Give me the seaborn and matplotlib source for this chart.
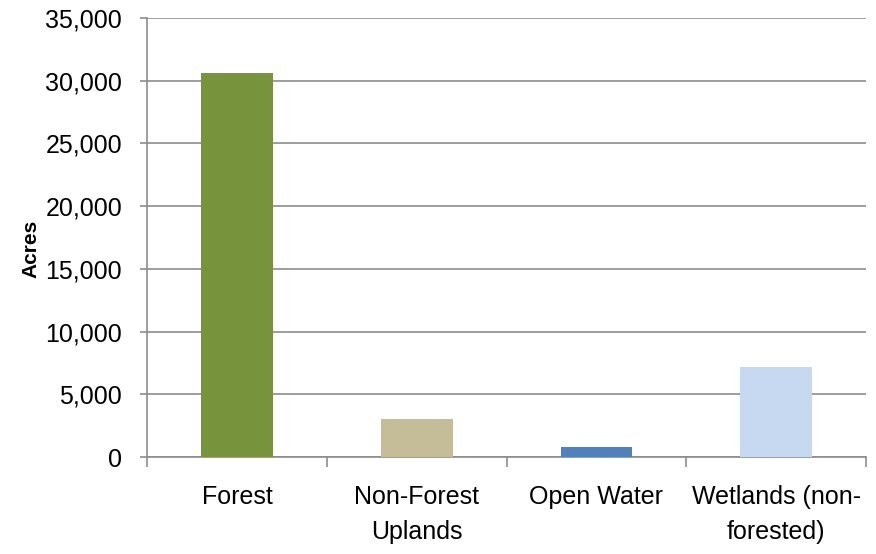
import numpy as np
import pandas as pd
import seaborn as sns
import matplotlib.pyplot as plt

categories = ['Forest', 'Non-Forest\nUplands', 'Open Water', 'Wetlands (non-\nforested)']
acres = [30600, 3000, 800, 7200]
colors = ['#77933C', '#C4BD97', '#4F81BD', '#C6D9F1']

data = pd.DataFrame({'Category': categories, 'Acres': acres})

sns.set_style('white')
plt.rcParams['font.family'] = ['Liberation Sans', 'DejaVu Sans']
plt.rcParams['text.color'] = 'black'

fig = plt.figure(figsize=(8.76, 5.54), dpi=100)
ax = fig.add_axes([0.168, 0.175, 0.8206, 0.7925])
sns.barplot(data=data, x='Category', y='Acres', hue='Category', palette=colors,
            width=0.4, saturation=1, linewidth=0, legend=False, ax=ax, zorder=3)

ax.set_ylim(0, 35000)
ax.set_xlim(-0.5, 3.5)
ax.set_yticks(np.arange(0, 35001, 5000))
ax.set_yticklabels([f'{v:,}' for v in range(0, 35001, 5000)], fontsize=18)
ax.yaxis.grid(True, color='#8C8C8C', linewidth=1.2, zorder=0)
ax.set_axisbelow(True)

ax.set_xticks([0, 1, 2, 3])
ax.set_xticklabels(categories, fontsize=18, linespacing=1.6)
ax.set_xticks([-0.5, 0.5, 1.5, 2.5, 3.5], minor=True)
ax.tick_params(axis='x', which='major', bottom=True, length=0, pad=20, labelcolor='black')
ax.tick_params(axis='x', which='minor', bottom=True, length=7, color='#8C8C8C', width=1.2, direction='out')
ax.tick_params(axis='y', left=True, length=5, color='#8C8C8C', labelcolor='black', width=1.2, direction='out', pad=13)

for s in ['top', 'right']:
    ax.spines[s].set_visible(False)
for s in ['left', 'bottom']:
    ax.spines[s].set_color('#8C8C8C')
    ax.spines[s].set_linewidth(1.2)

ax.set_xlabel('')
ax.set_ylabel('Acres', fontsize=15, fontweight='bold', color='black')
ax.yaxis.set_label_coords(-0.148, 0.475)

fig.savefig('out.png', dpi=100)
